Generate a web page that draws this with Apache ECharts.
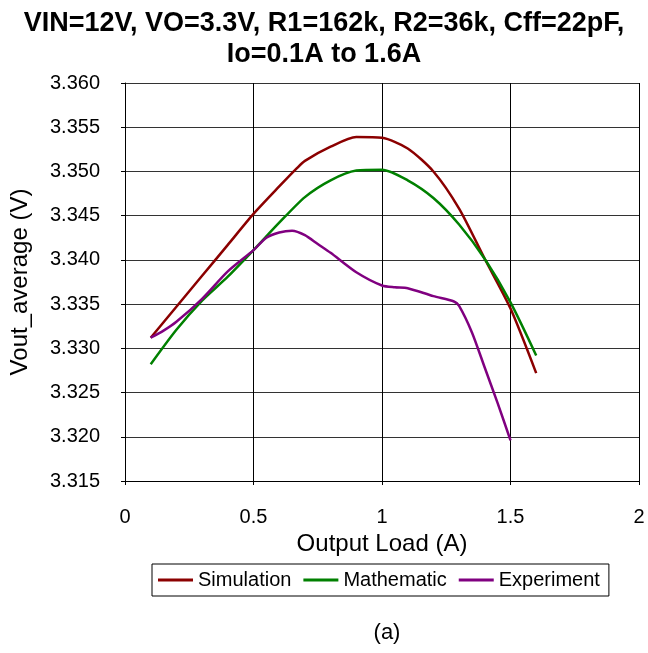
<!DOCTYPE html>
<html>
<head>
<meta charset="utf-8">
<script src="https://cdn.jsdelivr.net/npm/echarts@6/dist/echarts.min.js"></script>
<style>
html,body{margin:0;padding:0;background:#fff;}
#c{width:648px;height:653px;}
</style>
</head>
<body>
<div id="c"></div>
<script>
var titleLines = ['VIN=12V, VO=3.3V, R1=162k, R2=36k, Cff=22pF,', 'Io=0.1A to 1.6A'];
var xTicks = [0, 0.5, 1, 1.5, 2];
var yMin = 3.315, yMax = 3.360, yStep = 0.005;

var simX = [0.1, 0.2, 0.3, 0.4, 0.5, 0.6, 0.67, 0.7, 0.8, 0.9, 1.0, 1.1, 1.2, 1.3, 1.4, 1.5, 1.6];
var simY = [3.3312, 3.3347, 3.3382, 3.3417, 3.3452, 3.3483, 3.3504, 3.3512, 3.3528, 3.3539, 3.3538, 3.3526, 3.3500, 3.3458, 3.3401, 3.3345, 3.3272];

var mathX = [0.1, 0.2, 0.3, 0.4, 0.5, 0.6, 0.7, 0.8, 0.9, 1.0, 1.1, 1.2, 1.3, 1.4, 1.5, 1.6];
var mathY = [3.3282, 3.3321, 3.3354, 3.3381, 3.3411, 3.3442, 3.3471, 3.3490, 3.3501, 3.3502, 3.3490, 3.3470, 3.3440, 3.3401, 3.3352, 3.3292];

var expX = [0.1, 0.15, 0.2, 0.3, 0.4, 0.5, 0.55, 0.6, 0.65, 0.7, 0.75, 0.8, 0.9, 1.0, 1.05, 1.1, 1.2, 1.28, 1.3, 1.35, 1.4, 1.45, 1.5];
var expY = [3.3312, 3.3320, 3.3330, 3.3356, 3.3387, 3.3411, 3.3425, 3.3431, 3.3433, 3.3428, 3.3418, 3.3408, 3.3386, 3.3371, 3.3369, 3.3368, 3.3359, 3.3353, 3.3348, 3.3318, 3.3278, 3.3238, 3.3196];

var seriesNames = ['Simulation', 'Mathematic', 'Experiment'];
var seriesColors = ['#8b0000', '#008000', '#800080'];

function pairs(xs, ys) { return xs.map(function (x, i) { return [x, ys[i]]; }); }
var allData = [pairs(simX, simY), pairs(mathX, mathY), pairs(expX, expY)];

var FONT = '"Liberation Sans", Arial, sans-serif';
var chart = echarts.init(document.getElementById('c'), null, {renderer: 'canvas'});
chart.setOption({
  animation: false,
  backgroundColor: '#fff',
  title: [{
    text: titleLines.join('\n'),
    left: 'center',
    top: 3,
    textStyle: {fontFamily: FONT, fontWeight: 'bold', fontSize: 27, lineHeight: 31, color: '#000'}
  }, {
    text: '(a)',
    left: 382,
    textAlign: 'center',
    top: 617,
    textStyle: {fontFamily: FONT, fontWeight: 'normal', fontSize: 22, color: '#000'}
  }],
  grid: {left: 125, right: 9, top: 83, bottom: 172, containLabel: false},
  legend: {
    data: seriesNames,
    left: 152,
    top: 564,
    padding: [6, 9, 6, 6],
    itemGap: 12,
    itemWidth: 35,
    itemHeight: 3,
    icon: 'rect',
    borderColor: '#000',
    borderWidth: 1,
    borderRadius: 0,
    textStyle: {fontFamily: FONT, fontSize: 20, color: '#000'}
  },
  xAxis: {
    type: 'value',
    min: xTicks[0],
    max: xTicks[xTicks.length - 1],
    interval: 0.5,
    name: 'Output Load (A)',
    nameLocation: 'middle',
    nameGap: 49,
    nameTextStyle: {fontFamily: FONT, fontSize: 24, color: '#000'},
    axisLine: {show: true, lineStyle: {color: '#000', width: 1}},
    axisTick: {show: true, inside: false, length: 4, lineStyle: {color: '#000'}},
    axisLabel: {fontFamily: FONT, fontSize: 20, color: '#000', margin: 26},
    splitLine: {show: true, lineStyle: {color: '#000', width: 1}}
  },
  yAxis: {
    type: 'value',
    min: yMin,
    max: yMax,
    interval: yStep,
    name: 'Vout_average (V)',
    nameLocation: 'middle',
    nameGap: 93,
    nameTextStyle: {fontFamily: FONT, fontSize: 24, color: '#000'},
    axisLine: {show: true, lineStyle: {color: '#000', width: 1}},
    axisTick: {show: true, inside: false, length: 4, lineStyle: {color: '#000'}},
    axisLabel: {fontFamily: FONT, fontSize: 20, color: '#000', margin: 25,
      formatter: function (v) { return v.toFixed(3); }},
    splitLine: {show: true, lineStyle: {color: '#333', width: 1}}
  },
  series: seriesNames.map(function (n, i) {
    return {
      name: n,
      type: 'line',
      data: allData[i],
      smooth: 0.25,
      showSymbol: false,
      symbol: 'none',
      lineStyle: {color: seriesColors[i], width: 2.5},
      itemStyle: {color: seriesColors[i]}
    };
  })
});
</script>
</body>
</html>
